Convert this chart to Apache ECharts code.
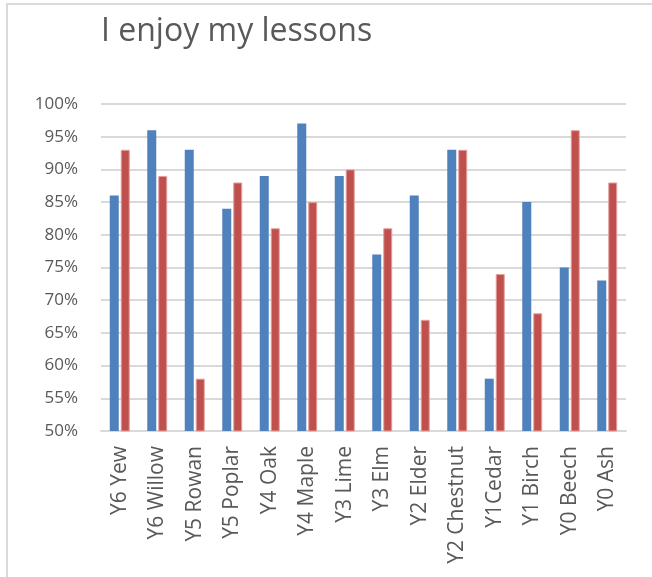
<!DOCTYPE html>
<html>
<head>
<meta charset="utf-8">
<script src="https://cdn.jsdelivr.net/npm/echarts@6/dist/echarts.min.js"></script>
<style>
html,body{margin:0;padding:0;background:#fff;}
#frame{position:absolute;left:6px;top:3px;width:660px;height:590px;border-left:2px solid #D9D9D9;border-top:2px solid #D9D9D9;}
#chart{position:absolute;left:0;top:0;width:652px;height:577px;}
</style>
</head>
<body>
<div id="frame"></div>
<div id="chart"></div>
<script>
const categories = ['Y6 Yew','Y6 Willow','Y5 Rowan','Y5 Poplar','Y4 Oak','Y4 Maple','Y3 Lime','Y3 Elm','Y2 Elder','Y2 Chestnut','Y1Cedar','Y1 Birch','Y0 Beech','Y0 Ash'];
const seriesBlue = [86,96,93,84,89,97,89,77,86,93,58,85,75,73];
const seriesRed = [93,89,58,88,81,85,90,81,67,93,74,68,96,88];
const yTicks = [50,55,60,65,70,75,80,85,90,95,100];

const chart = echarts.init(document.getElementById('chart'), null, {renderer:'canvas'});
const font = '"Open Sans", "Liberation Sans", sans-serif';
chart.setOption({
  animation:false,
  backgroundColor:'transparent',
  title:{
    text:'I enjoy my lessons',
    left:96, top:11,
    textStyle:{fontFamily:font, fontSize:32, fontWeight:400, color:'#595959'}
  },
  grid:{left:101, right:26, top:104, bottom:146, containLabel:false},
  xAxis:{
    type:'category',
    data:categories,
    axisLine:{lineStyle:{color:'#D9D9D9', width:2}},
    axisTick:{show:false},
    axisLabel:{rotate:90, margin:15, fontFamily:font, fontSize:21, color:'#595959', interval:0}
  },
  yAxis:{
    type:'value',
    min:yTicks[0], max:yTicks[yTicks.length-1], interval:5,
    axisLine:{show:false},
    axisTick:{show:false},
    splitLine:{lineStyle:{color:'#D9D9D9', width:2}},
    axisLabel:{formatter:v=>v+'%', margin:23, fontFamily:font, fontSize:17, color:'#595959'}
  },
  series:[
    {type:'bar', data:seriesBlue, barWidth:9, barGap:'22%',
     itemStyle:{color:'#4F81BD'}},
    {type:'bar', data:seriesRed, barWidth:9,
     itemStyle:{color:'#C0504D', borderColor:'#E3A09E', borderWidth:1}}
  ]
});
</script>
</body>
</html>
